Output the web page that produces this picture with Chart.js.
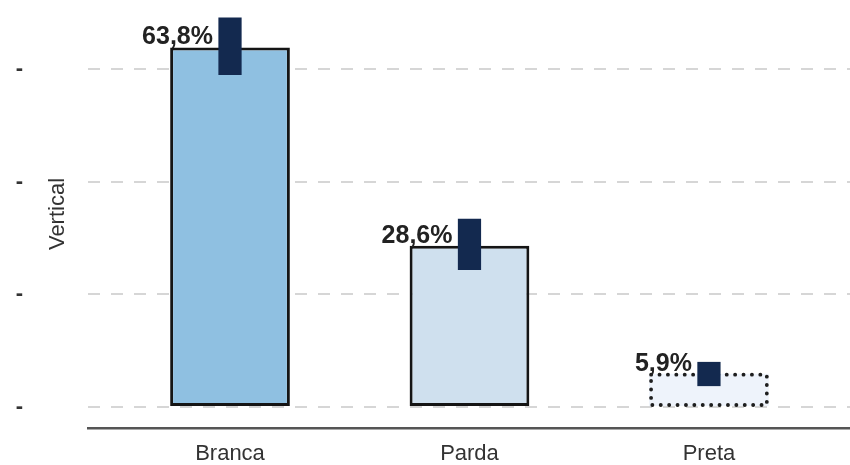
<!DOCTYPE html>
<html>
<head>
<meta charset="utf-8">
<script src="https://cdn.jsdelivr.net/npm/chart.js@4/dist/chart.umd.min.js"></script>
<style>
  html, body { margin:0; padding:0; background:#fff; }
  #wrap { width:850px; height:465px; position:relative; }
</style>
</head>
<body>
<div id="wrap"><canvas id="chart"></canvas></div>
<script>
// values
const categories = ["Branca", "Parda", "Preta"];
const shares     = [63.8, 28.6, 5.9];
const errLow     = [58.9, 24.3, 3.7];
const errHigh    = [69.1, 33.4, 8.0];
const shareText  = ["63,8%", "28,6%", "5,9%"];
const yTicks     = [0, 20, 40, 60];

const FONT = "'Liberation Sans', Arial, sans-serif";

// dotted outline for the last bar + value labels + y title
const extras = {
  id: 'extras',
  afterDatasetDraw(chart, args) {
    if (args.index !== 0) return;
    const ctx = chart.ctx;
    const el = args.meta.data[2];
    const p = el.getProps(['x','y','base','width'], true);
    ctx.save();
    ctx.strokeStyle = '#1e1e1e';
    ctx.lineWidth = 3.8;
    ctx.lineCap = 'round';
    ctx.setLineDash([0.1, 8.3]);
    ctx.strokeRect(p.x - p.width/2 + 2, p.y + 1, p.width - 4, p.base - p.y - 2);
    ctx.restore();
  },
  afterDraw(chart) {
    const ctx = chart.ctx;
    const meta = chart.getDatasetMeta(0);
    ctx.save();
    ctx.font = 'bold 25px ' + FONT;
    ctx.fillStyle = '#222';
    ctx.textAlign = 'right';
    ctx.textBaseline = 'alphabetic';
    meta.data.forEach((bar, i) => {
      ctx.fillText(shareText[i], bar.x - 17, bar.y - 3);
    });
    ctx.translate(58, 214);
    ctx.rotate(-Math.PI/2);
    ctx.font = '22px ' + FONT;
    ctx.fillStyle = '#333';
    ctx.textAlign = 'center';
    ctx.textBaseline = 'middle';
    ctx.fillText('Vertical', 0, 0);
    ctx.restore();
  }
};

new Chart(document.getElementById('chart'), {
  type: 'bar',
  data: {
    datasets: [
      {
        label: 'Share',
        data: shares.map((v, i) => ({x: i, y: v})),
        backgroundColor: ['#8fc0e1', '#cfe0ee', '#eef3fb'],
        borderColor: '#151515',
        borderWidth: [3, 3, 0],
        borderSkipped: false,
        barPercentage: 0.5,
        categoryPercentage: 1,
        grouped: false,
        order: 1
      },
      {
        label: 'Interval',
        data: errLow.map((v, i) => ({x: i, y: [v, errHigh[i]]})),
        backgroundColor: '#13294f',
        borderWidth: 0,
        barPercentage: 0.097,
        categoryPercentage: 1,
        grouped: false,
        order: 0
      }
    ]
  },
  options: {
    responsive: true,
    maintainAspectRatio: false,
    animation: false,
    layout: { padding: { top: 4, right: 0, left: 0, bottom: 0 } },
    plugins: { legend: { display: false }, tooltip: { enabled: false } },
    scales: {
      x: {
        type: 'linear',
        offset: false,
        min: -0.593,
        max: 2.589,
        afterBuildTicks: s => { s.ticks = categories.map((c, i) => ({value: i})); },
        afterFit: s => { s.height = 37; s.paddingLeft = 0; s.paddingRight = 0; },
        grid: { display: false, drawTicks: false },
        border: { display: true, color: '#555', width: 2.5 },
        ticks: {
          padding: 13,
          color: '#333',
          font: { family: FONT, size: 22 },
          callback: v => categories[v]
        }
      },
      y: {
        min: -3.73,
        max: 71.5,
        afterBuildTicks: s => { s.ticks = yTicks.map(v => ({value: v})); },
        afterFit: s => { s.width = 88; s.paddingTop = 0; s.paddingBottom = 0; },
        grid: { color: '#d6d6d6', lineWidth: 2, drawTicks: false },
        border: { display: false, dash: [12, 11] },
        ticks: {
          padding: 65,
          color: '#333',
          font: { family: FONT, size: 22, weight: 'bold' },
          callback: () => '-'
        }
      }
    }
  },
  plugins: [extras]
});
</script>
</body>
</html>
